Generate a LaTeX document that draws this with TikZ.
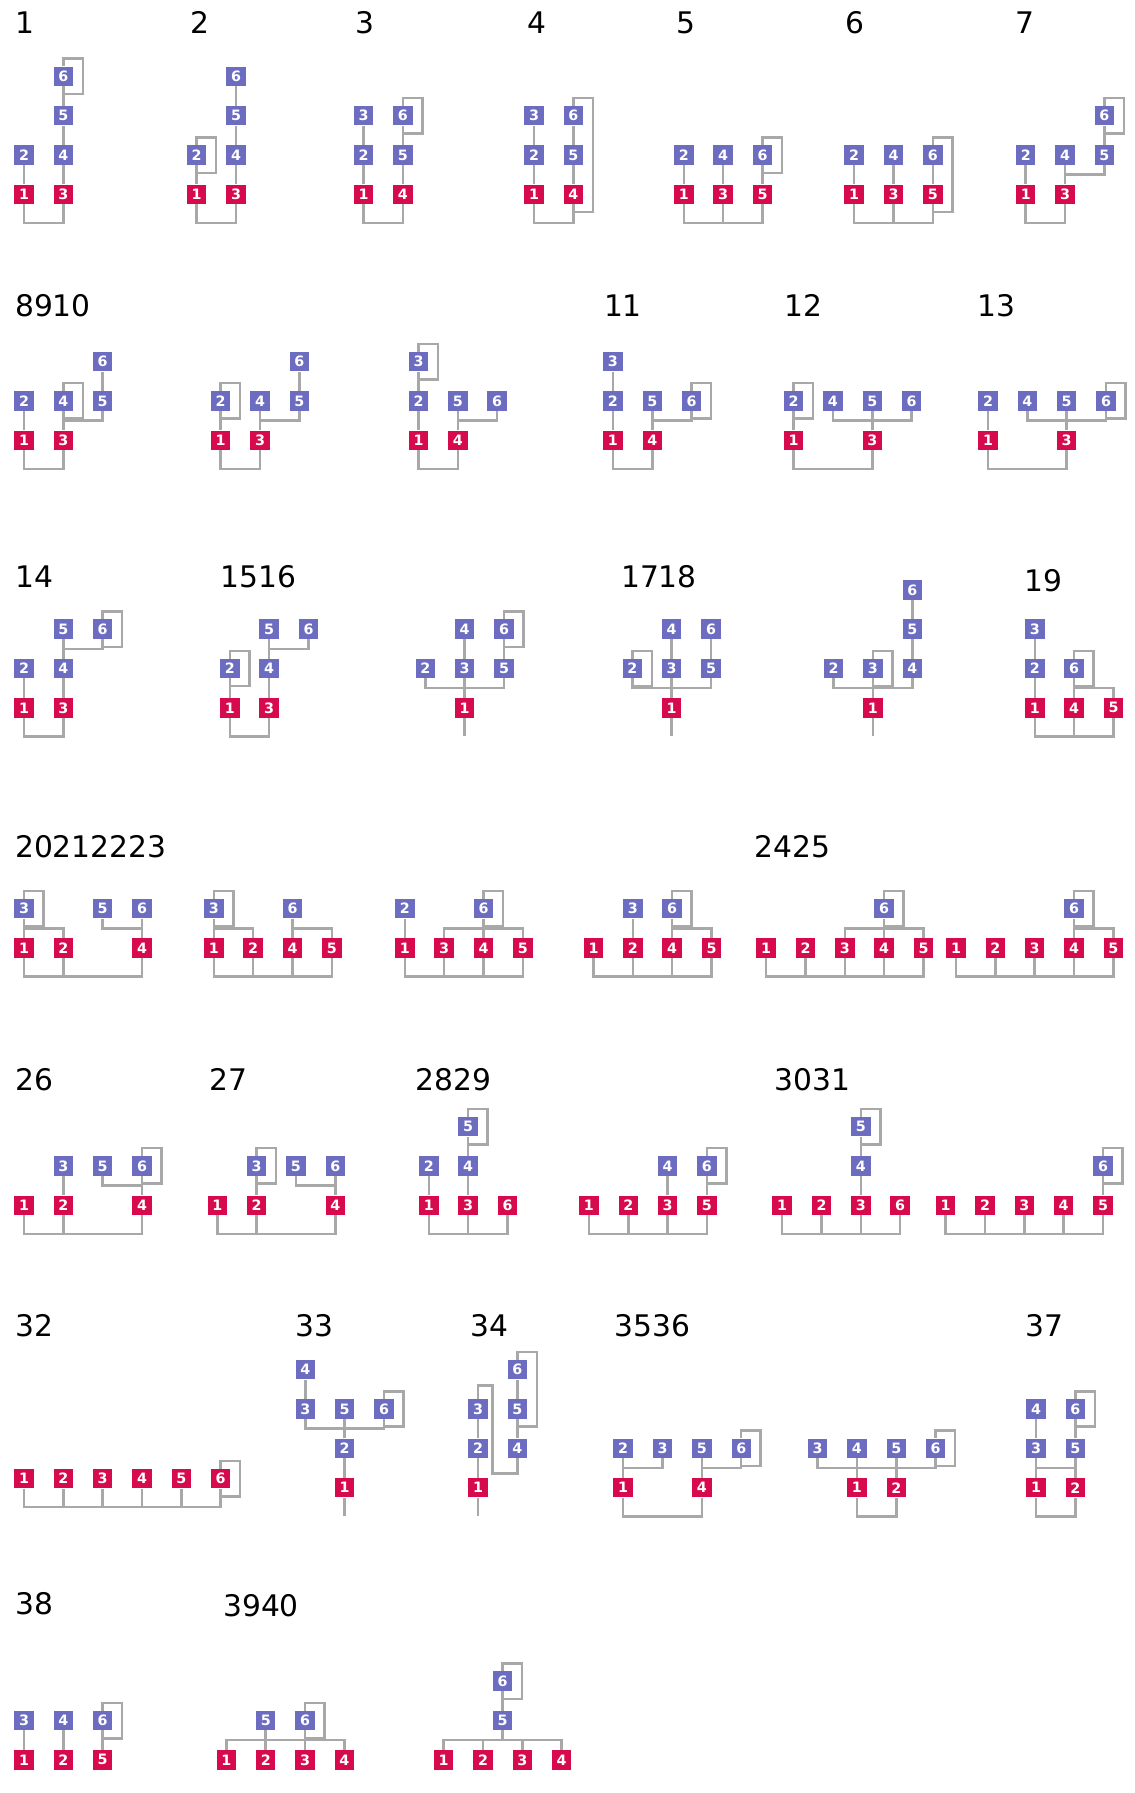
\documentclass[tikz,border=0pt]{standalone}
\usepackage{fontspec}
\setmainfont{DejaVu Sans}
\usepackage{xcolor}
\usepackage{tikz}
\usetikzlibrary{calc}
\definecolor{sqred}{HTML}{D80A4E}
\definecolor{sqblue}{HTML}{6C6CC0}
\definecolor{linegrey}{HTML}{A8A8A8}
\newcommand{\sqfont}{\fontsize{12.5}{12.5}\selectfont\bfseries}
\newcommand{\titlefont}{\fontsize{26}{26}\selectfont}
\pgfdeclarelayer{edges}
\pgfsetlayers{edges,main}
\tikzstyle{redsq} = [rectangle, fill=sqred, text=white, minimum size=17pt,
    inner sep=0pt, font=\sqfont]
\tikzstyle{bluesq} = [rectangle, fill=sqblue, text=white, minimum size=17pt,
    inner sep=0pt, font=\sqfont]
\tikzstyle{line} = [draw, line width=2.2pt, linegrey]
\tikzstyle{title} = [anchor=base west, inner sep=0pt, font=\titlefont]
\tikzstyle{fig} = [x=34.4pt, y=34.4pt]
% connector helpers
\newcommand{\rootbar}[2]{\path [line] (#1) -- ([yshift=-25pt]#1.center) -| (#2);}
\newcommand{\rootdrop}[1]{\path [line] (#1) -- ([yshift=-25pt]#1.center);}
\newcommand{\joinfork}[2]{\path [line] (#1) |- ($(#1)!0.5!(#2)$) -| (#2);}
\newcommand{\sqloop}[2]{\path [line] (#1) -- ([yshift=15.5pt]#1.center)
    -| ([xshift=17pt,yshift=-15.5pt]#2.center) -- ([yshift=-15.5pt]#2.center);}

\begin{document}
\begin{tikzpicture}[x=1pt, y=-1pt]
\useasboundingbox (0,0) rectangle (992,1568);
% Place titles
\node [title] (lab1) at (13,29) {1};
\node [title] (lab2) at (166,29) {2};
\node [title] (lab3) at (311,29) {3};
\node [title] (lab4) at (461,29) {4};
\node [title] (lab5) at (591,29) {5};
\node [title] (lab6) at (739,29) {6};
\node [title] (lab7) at (888,29) {7};
\node [title] (lab8910) at (13,277) {8910};
\node [title] (lab11) at (528,277) {11};
\node [title] (lab12) at (686,277) {12};
\node [title] (lab13) at (855,277) {13};
\node [title] (lab14) at (13,514) {14};
\node [title] (lab1516) at (193,514) {1516};
\node [title] (lab1718) at (543,514) {1718};
\node [title] (lab19) at (896,517) {19};
\node [title] (lab20212223) at (13,750) {20212223};
\node [title] (lab2425) at (660,750) {2425};
\node [title] (lab26) at (13,954) {26};
\node [title] (lab27) at (183,954) {27};
\node [title] (lab2829) at (363,954) {2829};
\node [title] (lab3031) at (677,954) {3031};
\node [title] (lab32) at (13,1169) {32};
\node [title] (lab33) at (258,1169) {33};
\node [title] (lab34) at (411,1169) {34};
\node [title] (lab3536) at (537,1169) {3536};
\node [title] (lab37) at (897,1169) {37};
\node [title] (lab38) at (13,1412) {38};
\node [title] (lab3940) at (195,1414) {3940};

% ---------- row 1 ----------
\begin{scope}[fig, xshift=21pt, yshift=-170pt]
	\node [redsq] (f1n1) at (0,0) {1};
	\node [redsq] (f1n3) at (1,0) {3};
	\node [bluesq] (f1n2) at (0,1) {2};
	\node [bluesq] (f1n4) at (1,1) {4};
	\node [bluesq] (f1n5) at (1,2) {5};
	\node [bluesq] (f1n6) at (1,3) {6};
	\begin{pgfonlayer}{edges}
	\rootbar{f1n1}{f1n3}
	\path [line] (f1n1) -- (f1n2);
	\path [line] (f1n3) -- (f1n4) -- (f1n5) -- (f1n6);
	\sqloop{f1n6}{f1n6}
	\end{pgfonlayer}
\end{scope}
\begin{scope}[fig, xshift=172pt, yshift=-170pt]
	\node [redsq] (f2n1) at (0,0) {1};
	\node [redsq] (f2n3) at (1,0) {3};
	\node [bluesq] (f2n2) at (0,1) {2};
	\node [bluesq] (f2n4) at (1,1) {4};
	\node [bluesq] (f2n5) at (1,2) {5};
	\node [bluesq] (f2n6) at (1,3) {6};
	\begin{pgfonlayer}{edges}
	\rootbar{f2n1}{f2n3}
	\path [line] (f2n1) -- (f2n2);
	\path [line] (f2n3) -- (f2n4) -- (f2n5) -- (f2n6);
	\sqloop{f2n2}{f2n2}
	\end{pgfonlayer}
\end{scope}
\begin{scope}[fig, xshift=318pt, yshift=-170pt]
	\node [redsq] (f3n1) at (0,0) {1};
	\node [redsq] (f3n4) at (1,0) {4};
	\node [bluesq] (f3n2) at (0,1) {2};
	\node [bluesq] (f3n3) at (0,2) {3};
	\node [bluesq] (f3n5) at (1,1) {5};
	\node [bluesq] (f3n6) at (1,2) {6};
	\begin{pgfonlayer}{edges}
	\rootbar{f3n1}{f3n4}
	\path [line] (f3n1) -- (f3n2) -- (f3n3);
	\path [line] (f3n4) -- (f3n5) -- (f3n6);
	\sqloop{f3n6}{f3n6}
	\end{pgfonlayer}
\end{scope}
\begin{scope}[fig, xshift=467pt, yshift=-170pt]
	\node [redsq] (f4n1) at (0,0) {1};
	\node [redsq] (f4n4) at (1,0) {4};
	\node [bluesq] (f4n2) at (0,1) {2};
	\node [bluesq] (f4n3) at (0,2) {3};
	\node [bluesq] (f4n5) at (1,1) {5};
	\node [bluesq] (f4n6) at (1,2) {6};
	\begin{pgfonlayer}{edges}
	\rootbar{f4n1}{f4n4}
	\path [line] (f4n1) -- (f4n2) -- (f4n3);
	\path [line] (f4n4) -- (f4n5) -- (f4n6);
	\sqloop{f4n6}{f4n4}
	\end{pgfonlayer}
\end{scope}
\begin{scope}[fig, xshift=598pt, yshift=-170pt]
	\node [redsq] (f5n1) at (0,0) {1};
	\node [redsq] (f5n3) at (1,0) {3};
	\node [redsq] (f5n5) at (2,0) {5};
	\node [bluesq] (f5n2) at (0,1) {2};
	\node [bluesq] (f5n4) at (1,1) {4};
	\node [bluesq] (f5n6) at (2,1) {6};
	\begin{pgfonlayer}{edges}
	\rootbar{f5n1}{f5n5} \rootdrop{f5n3}
	\path [line] (f5n1) -- (f5n2);
	\path [line] (f5n3) -- (f5n4);
	\path [line] (f5n5) -- (f5n6);
	\sqloop{f5n6}{f5n6}
	\end{pgfonlayer}
\end{scope}
\begin{scope}[fig, xshift=747pt, yshift=-170pt]
	\node [redsq] (f6n1) at (0,0) {1};
	\node [redsq] (f6n3) at (1,0) {3};
	\node [redsq] (f6n5) at (2,0) {5};
	\node [bluesq] (f6n2) at (0,1) {2};
	\node [bluesq] (f6n4) at (1,1) {4};
	\node [bluesq] (f6n6) at (2,1) {6};
	\begin{pgfonlayer}{edges}
	\rootbar{f6n1}{f6n5} \rootdrop{f6n3}
	\path [line] (f6n1) -- (f6n2);
	\path [line] (f6n3) -- (f6n4);
	\path [line] (f6n5) -- (f6n6);
	\sqloop{f6n6}{f6n5}
	\end{pgfonlayer}
\end{scope}
\begin{scope}[fig, xshift=897pt, yshift=-170pt]
	\node [redsq] (f7n1) at (0,0) {1};
	\node [redsq] (f7n3) at (1,0) {3};
	\node [bluesq] (f7n2) at (0,1) {2};
	\node [bluesq] (f7n4) at (1,1) {4};
	\node [bluesq] (f7n5) at (2,1) {5};
	\node [bluesq] (f7n6) at (2,2) {6};
	\begin{pgfonlayer}{edges}
	\rootbar{f7n1}{f7n3}
	\path [line] (f7n1) -- (f7n2);
	\path [line] (f7n3) -- (f7n4);
	\joinfork{f7n3}{f7n5}
	\path [line] (f7n5) -- (f7n6);
	\sqloop{f7n6}{f7n6}
	\end{pgfonlayer}
\end{scope}

% ---------- row 2 ----------
\begin{scope}[fig, xshift=21pt, yshift=-385pt]
	\node [redsq] (f8n1) at (0,0) {1};
	\node [redsq] (f8n3) at (1,0) {3};
	\node [bluesq] (f8n2) at (0,1) {2};
	\node [bluesq] (f8n4) at (1,1) {4};
	\node [bluesq] (f8n5) at (2,1) {5};
	\node [bluesq] (f8n6) at (2,2) {6};
	\begin{pgfonlayer}{edges}
	\rootbar{f8n1}{f8n3}
	\path [line] (f8n1) -- (f8n2);
	\path [line] (f8n3) -- (f8n4);
	\joinfork{f8n3}{f8n5}
	\path [line] (f8n5) -- (f8n6);
	\sqloop{f8n4}{f8n4}
	\end{pgfonlayer}
\end{scope}
\begin{scope}[fig, xshift=193pt, yshift=-385pt]
	\node [redsq] (f9n1) at (0,0) {1};
	\node [redsq] (f9n3) at (1,0) {3};
	\node [bluesq] (f9n2) at (0,1) {2};
	\node [bluesq] (f9n4) at (1,1) {4};
	\node [bluesq] (f9n5) at (2,1) {5};
	\node [bluesq] (f9n6) at (2,2) {6};
	\begin{pgfonlayer}{edges}
	\rootbar{f9n1}{f9n3}
	\path [line] (f9n1) -- (f9n2);
	\path [line] (f9n3) -- (f9n4);
	\joinfork{f9n3}{f9n5}
	\path [line] (f9n5) -- (f9n6);
	\sqloop{f9n2}{f9n2}
	\end{pgfonlayer}
\end{scope}
\begin{scope}[fig, xshift=366pt, yshift=-385pt]
	\node [redsq] (f10n1) at (0,0) {1};
	\node [redsq] (f10n4) at (1,0) {4};
	\node [bluesq] (f10n2) at (0,1) {2};
	\node [bluesq] (f10n3) at (0,2) {3};
	\node [bluesq] (f10n5) at (1,1) {5};
	\node [bluesq] (f10n6) at (2,1) {6};
	\begin{pgfonlayer}{edges}
	\rootbar{f10n1}{f10n4}
	\path [line] (f10n1) -- (f10n2) -- (f10n3);
	\path [line] (f10n4) -- (f10n5);
	\joinfork{f10n4}{f10n6}
	\sqloop{f10n3}{f10n3}
	\end{pgfonlayer}
\end{scope}
\begin{scope}[fig, xshift=536pt, yshift=-385pt]
	\node [redsq] (f11n1) at (0,0) {1};
	\node [redsq] (f11n4) at (1,0) {4};
	\node [bluesq] (f11n2) at (0,1) {2};
	\node [bluesq] (f11n3) at (0,2) {3};
	\node [bluesq] (f11n5) at (1,1) {5};
	\node [bluesq] (f11n6) at (2,1) {6};
	\begin{pgfonlayer}{edges}
	\rootbar{f11n1}{f11n4}
	\path [line] (f11n1) -- (f11n2) -- (f11n3);
	\path [line] (f11n4) -- (f11n5);
	\joinfork{f11n4}{f11n6}
	\sqloop{f11n6}{f11n6}
	\end{pgfonlayer}
\end{scope}
\begin{scope}[fig, xshift=694pt, yshift=-385pt]
	\node [redsq] (f12n1) at (0,0) {1};
	\node [redsq] (f12n3) at (2,0) {3};
	\node [bluesq] (f12n2) at (0,1) {2};
	\node [bluesq] (f12n4) at (1,1) {4};
	\node [bluesq] (f12n5) at (2,1) {5};
	\node [bluesq] (f12n6) at (3,1) {6};
	\begin{pgfonlayer}{edges}
	\rootbar{f12n1}{f12n3}
	\path [line] (f12n1) -- (f12n2);
	\joinfork{f12n3}{f12n4}
	\path [line] (f12n3) -- (f12n5);
	\joinfork{f12n3}{f12n6}
	\sqloop{f12n2}{f12n2}
	\end{pgfonlayer}
\end{scope}
\begin{scope}[fig, xshift=864pt, yshift=-385pt]
	\node [redsq] (f13n1) at (0,0) {1};
	\node [redsq] (f13n3) at (2,0) {3};
	\node [bluesq] (f13n2) at (0,1) {2};
	\node [bluesq] (f13n4) at (1,1) {4};
	\node [bluesq] (f13n5) at (2,1) {5};
	\node [bluesq] (f13n6) at (3,1) {6};
	\begin{pgfonlayer}{edges}
	\rootbar{f13n1}{f13n3}
	\path [line] (f13n1) -- (f13n2);
	\joinfork{f13n3}{f13n4}
	\path [line] (f13n3) -- (f13n5);
	\joinfork{f13n3}{f13n6}
	\sqloop{f13n6}{f13n6}
	\end{pgfonlayer}
\end{scope}

% ---------- row 3 ----------
\begin{scope}[fig, xshift=21pt, yshift=-619pt]
	\node [redsq] (f14n1) at (0,0) {1};
	\node [redsq] (f14n3) at (1,0) {3};
	\node [bluesq] (f14n2) at (0,1) {2};
	\node [bluesq] (f14n4) at (1,1) {4};
	\node [bluesq] (f14n5) at (1,2) {5};
	\node [bluesq] (f14n6) at (2,2) {6};
	\begin{pgfonlayer}{edges}
	\rootbar{f14n1}{f14n3}
	\path [line] (f14n1) -- (f14n2);
	\path [line] (f14n3) -- (f14n4) -- (f14n5);
	\joinfork{f14n4}{f14n6}
	\sqloop{f14n6}{f14n6}
	\end{pgfonlayer}
\end{scope}
\begin{scope}[fig, xshift=201pt, yshift=-619pt]
	\node [redsq] (f15n1) at (0,0) {1};
	\node [redsq] (f15n3) at (1,0) {3};
	\node [bluesq] (f15n2) at (0,1) {2};
	\node [bluesq] (f15n4) at (1,1) {4};
	\node [bluesq] (f15n5) at (1,2) {5};
	\node [bluesq] (f15n6) at (2,2) {6};
	\begin{pgfonlayer}{edges}
	\rootbar{f15n1}{f15n3}
	\path [line] (f15n1) -- (f15n2);
	\path [line] (f15n3) -- (f15n4) -- (f15n5);
	\joinfork{f15n4}{f15n6}
	\sqloop{f15n2}{f15n2}
	\end{pgfonlayer}
\end{scope}
\begin{scope}[fig, xshift=372pt, yshift=-619pt]
	\node [redsq] (f16n1) at (1,0) {1};
	\node [bluesq] (f16n2) at (0,1) {2};
	\node [bluesq] (f16n3) at (1,1) {3};
	\node [bluesq] (f16n5) at (2,1) {5};
	\node [bluesq] (f16n4) at (1,2) {4};
	\node [bluesq] (f16n6) at (2,2) {6};
	\begin{pgfonlayer}{edges}
	\rootdrop{f16n1}
	\joinfork{f16n1}{f16n2}
	\joinfork{f16n1}{f16n5}
	\path [line] (f16n1) -- (f16n3) -- (f16n4);
	\path [line] (f16n5) -- (f16n6);
	\sqloop{f16n6}{f16n6}
	\end{pgfonlayer}
\end{scope}
\begin{scope}[fig, xshift=553pt, yshift=-619pt]
	\node [redsq] (f17n1) at (1,0) {1};
	\node [bluesq] (f17n2) at (0,1) {2};
	\node [bluesq] (f17n3) at (1,1) {3};
	\node [bluesq] (f17n5) at (2,1) {5};
	\node [bluesq] (f17n4) at (1,2) {4};
	\node [bluesq] (f17n6) at (2,2) {6};
	\begin{pgfonlayer}{edges}
	\rootdrop{f17n1}
	\joinfork{f17n1}{f17n2}
	\joinfork{f17n1}{f17n5}
	\path [line] (f17n1) -- (f17n3) -- (f17n4);
	\path [line] (f17n5) -- (f17n6);
	\sqloop{f17n2}{f17n2}
	\end{pgfonlayer}
\end{scope}
\begin{scope}[fig, xshift=729pt, yshift=-619pt]
	\node [redsq] (f18n1) at (1,0) {1};
	\node [bluesq] (f18n2) at (0,1) {2};
	\node [bluesq] (f18n3) at (1,1) {3};
	\node [bluesq] (f18n4) at (2,1) {4};
	\node [bluesq] (f18n5) at (2,2) {5};
	\node [bluesq] (f18n6) at (2,3) {6};
	\begin{pgfonlayer}{edges}
	\rootdrop{f18n1}
	\joinfork{f18n1}{f18n2}
	\joinfork{f18n1}{f18n4}
	\path [line] (f18n1) -- (f18n3);
	\path [line] (f18n4) -- (f18n5) -- (f18n6);
	\sqloop{f18n3}{f18n3}
	\end{pgfonlayer}
\end{scope}
\begin{scope}[fig, xshift=905pt, yshift=-619pt]
	\node [redsq] (f19n1) at (0,0) {1};
	\node [redsq] (f19n4) at (1,0) {4};
	\node [redsq] (f19n5) at (2,0) {5};
	\node [bluesq] (f19n2) at (0,1) {2};
	\node [bluesq] (f19n3) at (0,2) {3};
	\node [bluesq] (f19n6) at (1,1) {6};
	\begin{pgfonlayer}{edges}
	\rootbar{f19n1}{f19n5} \rootdrop{f19n4}
	\path [line] (f19n1) -- (f19n2) -- (f19n3);
	\path [line] (f19n6) -- (f19n4);
	\joinfork{f19n6}{f19n5}
	\sqloop{f19n6}{f19n6}
	\end{pgfonlayer}
\end{scope}

% ---------- row 4 ----------
\begin{scope}[fig, xshift=21pt, yshift=-829pt]
	\node [redsq] (f20n1) at (0,0) {1};
	\node [redsq] (f20n2) at (1,0) {2};
	\node [redsq] (f20n4) at (3,0) {4};
	\node [bluesq] (f20n3) at (0,1) {3};
	\node [bluesq] (f20n5) at (2,1) {5};
	\node [bluesq] (f20n6) at (3,1) {6};
	\begin{pgfonlayer}{edges}
	\rootbar{f20n1}{f20n4} \rootdrop{f20n2}
	\path [line] (f20n3) -- (f20n1);
	\joinfork{f20n3}{f20n2}
	\path [line] (f20n6) -- (f20n4);
	\joinfork{f20n5}{f20n4}
	\sqloop{f20n3}{f20n3}
	\end{pgfonlayer}
\end{scope}
\begin{scope}[fig, xshift=187pt, yshift=-829pt]
	\node [redsq] (f21n1) at (0,0) {1};
	\node [redsq] (f21n2) at (1,0) {2};
	\node [redsq] (f21n4) at (2,0) {4};
	\node [redsq] (f21n5) at (3,0) {5};
	\node [bluesq] (f21n3) at (0,1) {3};
	\node [bluesq] (f21n6) at (2,1) {6};
	\begin{pgfonlayer}{edges}
	\rootbar{f21n1}{f21n5} \rootdrop{f21n2} \rootdrop{f21n4}
	\path [line] (f21n3) -- (f21n1);
	\joinfork{f21n3}{f21n2}
	\path [line] (f21n6) -- (f21n4);
	\joinfork{f21n6}{f21n5}
	\sqloop{f21n3}{f21n3}
	\end{pgfonlayer}
\end{scope}
\begin{scope}[fig, xshift=354pt, yshift=-829pt]
	\node [redsq] (f22n1) at (0,0) {1};
	\node [redsq] (f22n3) at (1,0) {3};
	\node [redsq] (f22n4) at (2,0) {4};
	\node [redsq] (f22n5) at (3,0) {5};
	\node [bluesq] (f22n2) at (0,1) {2};
	\node [bluesq] (f22n6) at (2,1) {6};
	\begin{pgfonlayer}{edges}
	\rootbar{f22n1}{f22n5} \rootdrop{f22n3} \rootdrop{f22n4}
	\path [line] (f22n1) -- (f22n2);
	\joinfork{f22n6}{f22n3}
	\path [line] (f22n6) -- (f22n4);
	\joinfork{f22n6}{f22n5}
	\sqloop{f22n6}{f22n6}
	\end{pgfonlayer}
\end{scope}
\begin{scope}[fig, xshift=519pt, yshift=-829pt]
	\node [redsq] (f23n1) at (0,0) {1};
	\node [redsq] (f23n2) at (1,0) {2};
	\node [redsq] (f23n4) at (2,0) {4};
	\node [redsq] (f23n5) at (3,0) {5};
	\node [bluesq] (f23n3) at (1,1) {3};
	\node [bluesq] (f23n6) at (2,1) {6};
	\begin{pgfonlayer}{edges}
	\rootbar{f23n1}{f23n5} \rootdrop{f23n2} \rootdrop{f23n4}
	\path [line] (f23n2) -- (f23n3);
	\path [line] (f23n6) -- (f23n4);
	\joinfork{f23n6}{f23n5}
	\sqloop{f23n6}{f23n6}
	\end{pgfonlayer}
\end{scope}
\begin{scope}[fig, xshift=670pt, yshift=-829pt]
	\node [redsq] (f24n1) at (0,0) {1};
	\node [redsq] (f24n2) at (1,0) {2};
	\node [redsq] (f24n3) at (2,0) {3};
	\node [redsq] (f24n4) at (3,0) {4};
	\node [redsq] (f24n5) at (4,0) {5};
	\node [bluesq] (f24n6) at (3,1) {6};
	\begin{pgfonlayer}{edges}
	\rootbar{f24n1}{f24n5} \rootdrop{f24n2} \rootdrop{f24n3} \rootdrop{f24n4}
	\joinfork{f24n6}{f24n3}
	\path [line] (f24n6) -- (f24n4);
	\joinfork{f24n6}{f24n5}
	\sqloop{f24n6}{f24n6}
	\end{pgfonlayer}
\end{scope}
\begin{scope}[fig, xshift=836pt, yshift=-829pt]
	\node [redsq] (f25n1) at (0,0) {1};
	\node [redsq] (f25n2) at (1,0) {2};
	\node [redsq] (f25n3) at (2,0) {3};
	\node [redsq] (f25n4) at (3,0) {4};
	\node [redsq] (f25n5) at (4,0) {5};
	\node [bluesq] (f25n6) at (3,1) {6};
	\begin{pgfonlayer}{edges}
	\rootbar{f25n1}{f25n5} \rootdrop{f25n2} \rootdrop{f25n3} \rootdrop{f25n4}
	\path [line] (f25n6) -- (f25n4);
	\joinfork{f25n6}{f25n5}
	\sqloop{f25n6}{f25n6}
	\end{pgfonlayer}
\end{scope}

% ---------- row 5 ----------
\begin{scope}[fig, xshift=21pt, yshift=-1054pt]
	\node [redsq] (f26n1) at (0,0) {1};
	\node [redsq] (f26n2) at (1,0) {2};
	\node [redsq] (f26n4) at (3,0) {4};
	\node [bluesq] (f26n3) at (1,1) {3};
	\node [bluesq] (f26n5) at (2,1) {5};
	\node [bluesq] (f26n6) at (3,1) {6};
	\begin{pgfonlayer}{edges}
	\rootbar{f26n1}{f26n4} \rootdrop{f26n2}
	\path [line] (f26n2) -- (f26n3);
	\path [line] (f26n6) -- (f26n4);
	\joinfork{f26n5}{f26n4}
	\sqloop{f26n6}{f26n6}
	\end{pgfonlayer}
\end{scope}
\begin{scope}[fig, xshift=190pt, yshift=-1054pt]
	\node [redsq] (f27n1) at (0,0) {1};
	\node [redsq] (f27n2) at (1,0) {2};
	\node [redsq] (f27n4) at (3,0) {4};
	\node [bluesq] (f27n3) at (1,1) {3};
	\node [bluesq] (f27n5) at (2,1) {5};
	\node [bluesq] (f27n6) at (3,1) {6};
	\begin{pgfonlayer}{edges}
	\rootbar{f27n1}{f27n4} \rootdrop{f27n2}
	\path [line] (f27n2) -- (f27n3);
	\path [line] (f27n6) -- (f27n4);
	\joinfork{f27n5}{f27n4}
	\sqloop{f27n3}{f27n3}
	\end{pgfonlayer}
\end{scope}
\begin{scope}[fig, xshift=375pt, yshift=-1054pt]
	\node [redsq] (f28n1) at (0,0) {1};
	\node [redsq] (f28n3) at (1,0) {3};
	\node [redsq] (f28n6) at (2,0) {6};
	\node [bluesq] (f28n2) at (0,1) {2};
	\node [bluesq] (f28n4) at (1,1) {4};
	\node [bluesq] (f28n5) at (1,2) {5};
	\begin{pgfonlayer}{edges}
	\rootbar{f28n1}{f28n6} \rootdrop{f28n3}
	\path [line] (f28n1) -- (f28n2);
	\path [line] (f28n3) -- (f28n4) -- (f28n5);
	\sqloop{f28n5}{f28n5}
	\end{pgfonlayer}
\end{scope}
\begin{scope}[fig, xshift=515pt, yshift=-1054pt]
	\node [redsq] (f29n1) at (0,0) {1};
	\node [redsq] (f29n2) at (1,0) {2};
	\node [redsq] (f29n3) at (2,0) {3};
	\node [redsq] (f29n5) at (3,0) {5};
	\node [bluesq] (f29n4) at (2,1) {4};
	\node [bluesq] (f29n6) at (3,1) {6};
	\begin{pgfonlayer}{edges}
	\rootbar{f29n1}{f29n5} \rootdrop{f29n2} \rootdrop{f29n3}
	\path [line] (f29n3) -- (f29n4);
	\path [line] (f29n5) -- (f29n6);
	\sqloop{f29n6}{f29n6}
	\end{pgfonlayer}
\end{scope}
\begin{scope}[fig, xshift=684pt, yshift=-1054pt]
	\node [redsq] (f30n1) at (0,0) {1};
	\node [redsq] (f30n2) at (1,0) {2};
	\node [redsq] (f30n3) at (2,0) {3};
	\node [redsq] (f30n6) at (3,0) {6};
	\node [bluesq] (f30n4) at (2,1) {4};
	\node [bluesq] (f30n5) at (2,2) {5};
	\begin{pgfonlayer}{edges}
	\rootbar{f30n1}{f30n6} \rootdrop{f30n2} \rootdrop{f30n3}
	\path [line] (f30n3) -- (f30n4) -- (f30n5);
	\sqloop{f30n5}{f30n5}
	\end{pgfonlayer}
\end{scope}
\begin{scope}[fig, xshift=827pt, yshift=-1054pt]
	\node [redsq] (f31n1) at (0,0) {1};
	\node [redsq] (f31n2) at (1,0) {2};
	\node [redsq] (f31n3) at (2,0) {3};
	\node [redsq] (f31n4) at (3,0) {4};
	\node [redsq] (f31n5) at (4,0) {5};
	\node [bluesq] (f31n6) at (4,1) {6};
	\begin{pgfonlayer}{edges}
	\rootbar{f31n1}{f31n5} \rootdrop{f31n2} \rootdrop{f31n3} \rootdrop{f31n4}
	\path [line] (f31n5) -- (f31n6);
	\sqloop{f31n6}{f31n6}
	\end{pgfonlayer}
\end{scope}

% ---------- row 6 ----------
\begin{scope}[fig, xshift=21pt, yshift=-1293pt]
	\node [redsq] (f32n1) at (0,0) {1};
	\node [redsq] (f32n2) at (1,0) {2};
	\node [redsq] (f32n3) at (2,0) {3};
	\node [redsq] (f32n4) at (3,0) {4};
	\node [redsq] (f32n5) at (4,0) {5};
	\node [redsq] (f32n6) at (5,0) {6};
	\begin{pgfonlayer}{edges}
	\rootbar{f32n1}{f32n6}
	\rootdrop{f32n2} \rootdrop{f32n3} \rootdrop{f32n4} \rootdrop{f32n5}
	\sqloop{f32n6}{f32n6}
	\end{pgfonlayer}
\end{scope}
\begin{scope}[fig, xshift=267pt, yshift=-1301pt]
	\node [redsq] (f33n1) at (1,0) {1};
	\node [bluesq] (f33n2) at (1,1) {2};
	\node [bluesq] (f33n3) at (0,2) {3};
	\node [bluesq] (f33n5) at (1,2) {5};
	\node [bluesq] (f33n6) at (2,2) {6};
	\node [bluesq] (f33n4) at (0,3) {4};
	\begin{pgfonlayer}{edges}
	\rootdrop{f33n1}
	\path [line] (f33n1) -- (f33n2) -- (f33n5);
	\joinfork{f33n2}{f33n3}
	\joinfork{f33n2}{f33n6}
	\path [line] (f33n3) -- (f33n4);
	\sqloop{f33n6}{f33n6}
	\end{pgfonlayer}
\end{scope}
\begin{scope}[fig, xshift=418pt, yshift=-1301pt]
	\node [redsq] (f34n1) at (0,0) {1};
	\node [bluesq] (f34n2) at (0,1) {2};
	\node [bluesq] (f34n3) at (0,2) {3};
	\node [bluesq] (f34n4) at (1,1) {4};
	\node [bluesq] (f34n5) at (1,2) {5};
	\node [bluesq] (f34n6) at (1,3) {6};
	\begin{pgfonlayer}{edges}
	\rootdrop{f34n1}
	\path [line] (f34n1) -- (f34n2) -- (f34n3);
	\path [line] (f34n3) -- ++(0,0.6) -- ++(0.37,0)
	    |- ([yshift=-22pt]f34n4.center) -- (f34n4);
	\path [line] (f34n4) -- (f34n5) -- (f34n6);
	\sqloop{f34n6}{f34n5}
	\end{pgfonlayer}
\end{scope}
\begin{scope}[fig, xshift=545pt, yshift=-1301pt]
	\node [redsq] (f35n1) at (0,0) {1};
	\node [redsq] (f35n4) at (2,0) {4};
	\node [bluesq] (f35n2) at (0,1) {2};
	\node [bluesq] (f35n3) at (1,1) {3};
	\node [bluesq] (f35n5) at (2,1) {5};
	\node [bluesq] (f35n6) at (3,1) {6};
	\begin{pgfonlayer}{edges}
	\rootbar{f35n1}{f35n4}
	\path [line] (f35n1) -- (f35n2);
	\joinfork{f35n1}{f35n3}
	\path [line] (f35n4) -- (f35n5);
	\joinfork{f35n4}{f35n6}
	\sqloop{f35n6}{f35n6}
	\end{pgfonlayer}
\end{scope}
\begin{scope}[fig, xshift=715pt, yshift=-1301pt]
	\node [redsq] (f36n1) at (1,0) {1};
	\node [redsq] (f36n2) at (2,0) {2};
	\node [bluesq] (f36n3) at (0,1) {3};
	\node [bluesq] (f36n4) at (1,1) {4};
	\node [bluesq] (f36n5) at (2,1) {5};
	\node [bluesq] (f36n6) at (3,1) {6};
	\begin{pgfonlayer}{edges}
	\rootbar{f36n1}{f36n2}
	\joinfork{f36n1}{f36n3}
	\path [line] (f36n1) -- (f36n4);
	\joinfork{f36n1}{f36n5}
	\path [line] (f36n2) -- (f36n5);
	\joinfork{f36n2}{f36n6}
	\sqloop{f36n6}{f36n6}
	\end{pgfonlayer}
\end{scope}
\begin{scope}[fig, xshift=906pt, yshift=-1301pt]
	\node [redsq] (f37n1) at (0,0) {1};
	\node [redsq] (f37n2) at (1,0) {2};
	\node [bluesq] (f37n3) at (0,1) {3};
	\node [bluesq] (f37n5) at (1,1) {5};
	\node [bluesq] (f37n4) at (0,2) {4};
	\node [bluesq] (f37n6) at (1,2) {6};
	\begin{pgfonlayer}{edges}
	\rootbar{f37n1}{f37n2}
	\path [line] (f37n1) -- (f37n3) -- (f37n4);
	\path [line] (f37n2) -- (f37n5) -- (f37n6);
	\joinfork{f37n1}{f37n5}
	\sqloop{f37n6}{f37n6}
	\end{pgfonlayer}
\end{scope}

% ---------- row 7 ----------
\begin{scope}[fig, xshift=21pt, yshift=-1539pt]
	\node [redsq] (f38n1) at (0,0) {1};
	\node [redsq] (f38n2) at (1,0) {2};
	\node [redsq] (f38n5) at (2,0) {5};
	\node [bluesq] (f38n3) at (0,1) {3};
	\node [bluesq] (f38n4) at (1,1) {4};
	\node [bluesq] (f38n6) at (2,1) {6};
	\begin{pgfonlayer}{edges}
	\path [line] (f38n1) -- (f38n3);
	\path [line] (f38n2) -- (f38n4);
	\path [line] (f38n5) -- (f38n6);
	\sqloop{f38n6}{f38n6}
	\end{pgfonlayer}
\end{scope}
\begin{scope}[fig, xshift=198pt, yshift=-1539pt]
	\node [redsq] (f39n1) at (0,0) {1};
	\node [redsq] (f39n2) at (1,0) {2};
	\node [redsq] (f39n3) at (2,0) {3};
	\node [redsq] (f39n4) at (3,0) {4};
	\node [bluesq] (f39n5) at (1,1) {5};
	\node [bluesq] (f39n6) at (2,1) {6};
	\begin{pgfonlayer}{edges}
	\joinfork{f39n5}{f39n1}
	\path [line] (f39n5) -- (f39n2);
	\joinfork{f39n5}{f39n3}
	\joinfork{f39n5}{f39n4}
	\path [line] (f39n6) -- (f39n3);
	\sqloop{f39n6}{f39n6}
	\end{pgfonlayer}
\end{scope}
\begin{scope}[fig, xshift=388pt, yshift=-1539pt]
	\node [redsq] (f40n1) at (0,0) {1};
	\node [redsq] (f40n2) at (1,0) {2};
	\node [redsq] (f40n3) at (2,0) {3};
	\node [redsq] (f40n4) at (3,0) {4};
	\node [bluesq] (f40n5) at (1.5,1) {5};
	\node [bluesq] (f40n6) at (1.5,2) {6};
	\begin{pgfonlayer}{edges}
	\joinfork{f40n5}{f40n1}
	\joinfork{f40n5}{f40n2}
	\joinfork{f40n5}{f40n3}
	\joinfork{f40n5}{f40n4}
	\path [line] (f40n5) -- (f40n6);
	\sqloop{f40n6}{f40n6}
	\end{pgfonlayer}
\end{scope}
\end{tikzpicture}
\end{document}
